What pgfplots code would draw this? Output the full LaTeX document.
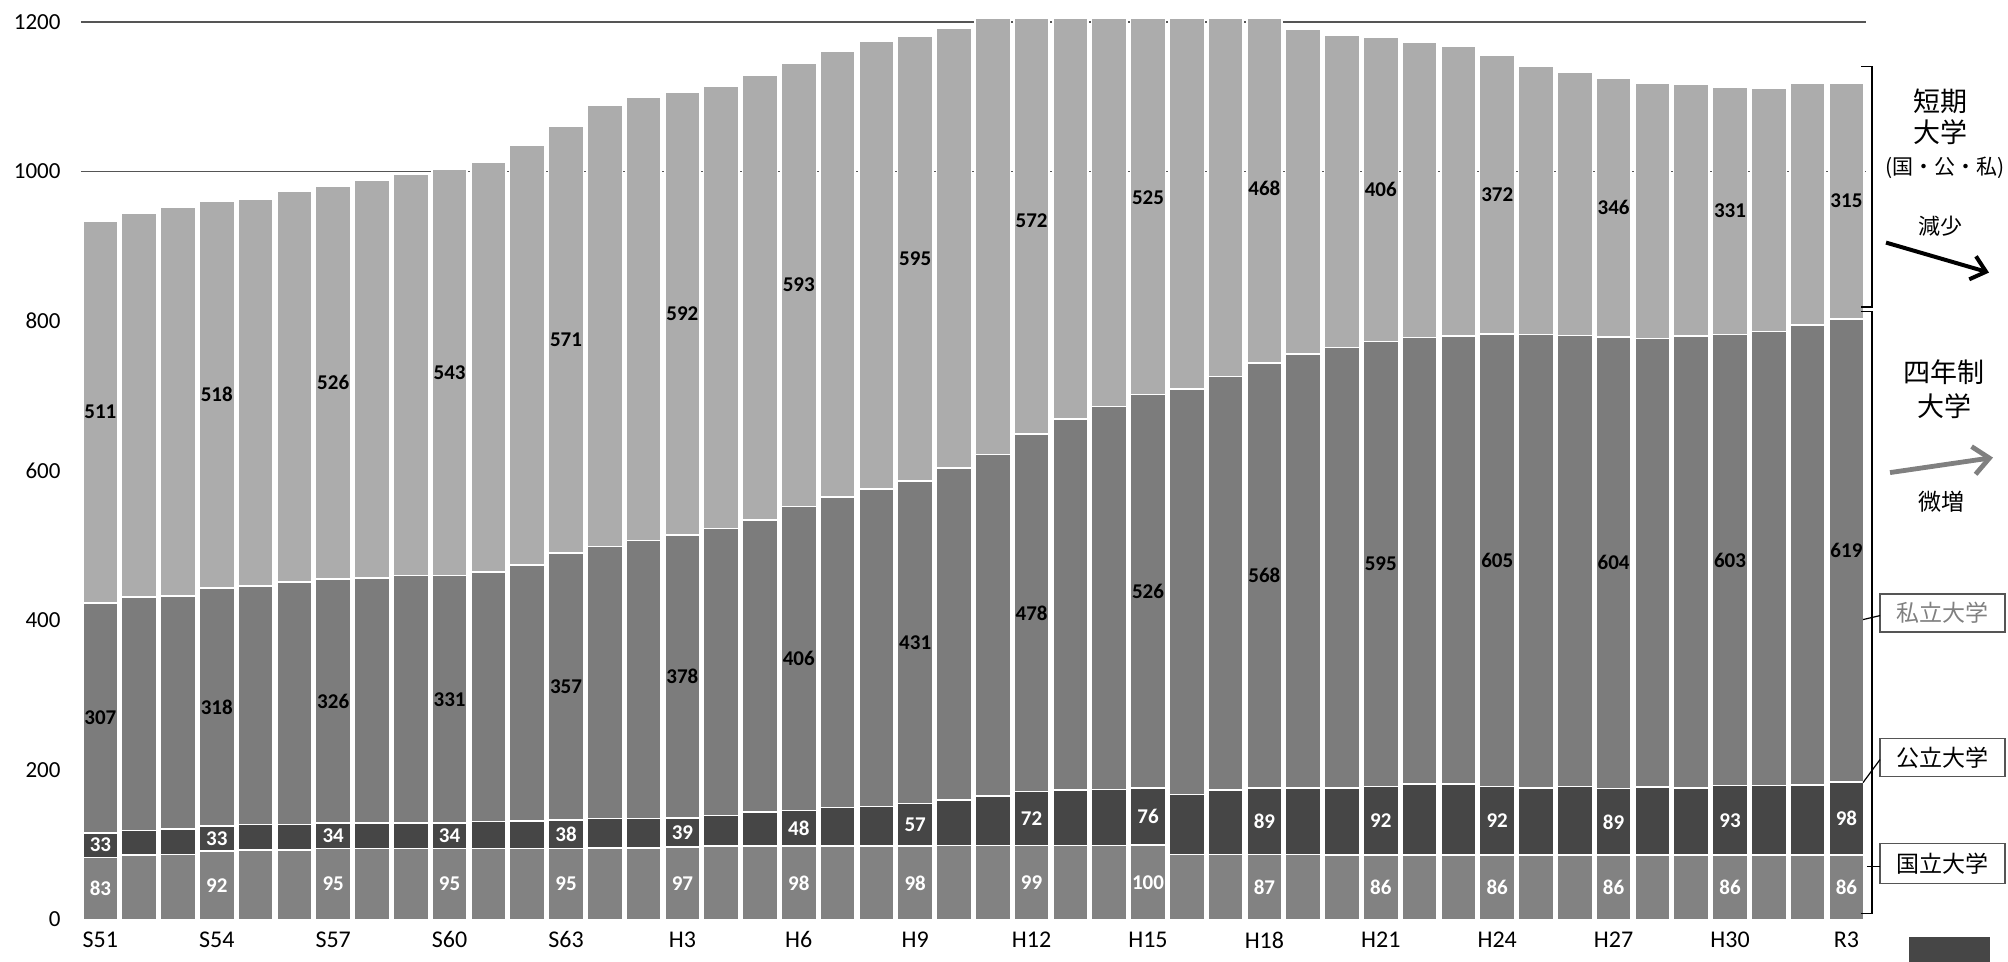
\documentclass[border=0pt]{standalone}
\usepackage{fontspec}
\setmainfont{Carlito}
\newfontfamily\jp{Noto Sans CJK JP}
\usepackage{pgfplots}
\pgfplotsset{compat=1.18}
\usepackage{pgfplotstable}
\usetikzlibrary{arrows.meta}

\definecolor{natc}{RGB}{130,130,130}
\definecolor{pubc}{RGB}{70,70,70}
\definecolor{pric}{RGB}{124,124,124}
\definecolor{jcc}{RGB}{172,172,172}
\definecolor{gridc}{RGB}{85,85,85}

% 国立, 公立, 私立, 短期大学 ; *l columns = printed labels
\pgfplotstableread{
x nat pub pri jc nl pl rl jl
0 83 33 307 511 83 33 307 511
1 86 33 312 514 {} {} {} {}
2 87 34 312 519 {} {} {} {}
3 92 33 318 518 92 33 318 518
4 93 34 319 517 {} {} {} {}
5 93 34 324 523 {} {} {} {}
6 95 34 326 526 95 34 326 526
7 95 34 328 532 {} {} {} {}
8 95 34 331 536 {} {} {} {}
9 95 34 331 543 95 34 331 543
10 95 36 334 548 {} {} {} {}
11 95 37 342 561 {} {} {} {}
12 95 38 357 571 95 38 357 571
13 96 39 364 590 {} {} {} {}
14 96 39 372 593 {} {} {} {}
15 97 39 378 592 97 39 378 592
16 98 41 384 591 {} {} {} {}
17 98 46 390 595 {} {} {} {}
18 98 48 406 593 98 48 406 593
19 98 52 415 596 {} {} {} {}
20 98 53 425 598 {} {} {} {}
21 98 57 431 595 98 57 431 595
22 99 61 444 588 {} {} {} {}
23 99 66 457 585 {} {} {} {}
24 99 72 478 572 99 72 478 572
25 99 74 496 559 {} {} {} {}
26 99 75 512 541 {} {} {} {}
27 100 76 526 525 100 76 526 525
28 87 80 542 508 {} {} {} {}
29 87 86 553 488 {} {} {} {}
30 87 89 568 468 87 89 568 468
31 87 89 580 434 {} {} {} {}
32 86 90 589 417 {} {} {} {}
33 86 92 595 406 86 92 595 406
34 86 95 597 395 {} {} {} {}
35 86 95 599 387 {} {} {} {}
36 86 92 605 372 86 92 605 372
37 86 90 606 359 {} {} {} {}
38 86 92 603 352 {} {} {} {}
39 86 89 604 346 86 89 604 346
40 86 91 600 341 {} {} {} {}
41 86 90 604 337 {} {} {} {}
42 86 93 603 331 86 93 603 331
43 86 93 607 326 {} {} {} {}
44 86 94 615 323 {} {} {} {}
45 86 98 619 315 86 98 619 315
}\univ

\pgfplotsset{
  seg/.style n args={2}{
    fill=#1, draw=white, line width=0.8pt,
    point meta=explicit symbolic,
    nodes near coords,
    nodes near coords align=center,
    every node near coord/.append style={text=#2, anchor=center,
      font=\bfseries\fontsize{10.5}{11}\selectfont},
  },
}

\begin{document}
\begin{tikzpicture}
\useasboundingbox (-40.5pt,-21pt) rectangle (963.5pt,459.8pt);
\begin{axis}[
  at={(0,0)}, anchor=south west,
  x=19.4pt, y=0.374pt,
  xmin=-0.5, xmax=45.5, ymin=0, ymax=1232,
  ybar stacked, bar width=17.6pt,
  axis line style={draw=none},
  major tick length=0pt,
  xtick={0,3,...,45},
  xticklabels={S51,S54,S57,S60,S63,H3,H6,H9,H12,H15,H18,H21,H24,H27,H30,R3},
  ytick={0,200,...,1200},
  extra y ticks={1000,1200},
  extra y tick labels={},
  extra y tick style={ymajorgrids=true, major grid style={gridc, line width=0.6pt}},
  /pgf/number format/assume math mode=true,
  /pgf/number format/1000 sep={},
  yticklabel style={xshift=-6.7pt, font=\fontsize{11.5}{12}\selectfont},
  xticklabel style={yshift=-2.5pt, font=\fontsize{12}{13}\selectfont},
]
\addplot[seg={natc}{white}] table[x=x, y=nat, meta=nl] {\univ};
\addplot[seg={pubc}{white}] table[x=x, y=pub, meta=pl] {\univ};
\addplot[seg={pric}{black}] table[x=x, y=pri, meta=rl] {\univ};
\addplot[seg={jcc}{black}] table[x=x, y=jc, meta=jl] {\univ};
\end{axis}
% the chart is cut at 1200: hide the bar tops above that line
\fill[white] (0pt,450.4pt) rectangle (893pt,470pt);

% brackets
\draw[line width=0.6pt] (890pt,426.4pt) -- (895.5pt,426.4pt) -- (895.5pt,306.3pt) -- (890pt,306.3pt);
\draw[line width=0.6pt] (890pt,304pt) -- (895.5pt,304pt) -- (895.5pt,3pt) -- (890pt,3pt);

% 短期大学
\node[font=\jp\fontsize{13.5}{14}\selectfont] at (929.5pt,409pt) {短期};
\node[font=\jp\fontsize{13.5}{14}\selectfont] at (929.5pt,393.5pt) {大学};
\node[font=\jp\fontsize{10.5}{11}\selectfont, inner sep=0pt] at (932pt,376pt) {(国・公・私)};
\node[font=\jp\fontsize{11}{12}\selectfont] at (929.5pt,346.5pt) {減少};
\draw[line width=2pt, -{Straight Barb[length=7pt,width=12pt]}] (902.5pt,338.5pt) -- (954pt,323.5pt);

% 四年制大学
\node[font=\jp\fontsize{13.5}{14}\selectfont] at (931.5pt,273.5pt) {四年制};
\node[font=\jp\fontsize{13.5}{14}\selectfont] at (931.5pt,256.5pt) {大学};
\draw[line width=2.4pt, gray, -{Straight Barb[length=8pt,width=14pt]}] (904.5pt,223.5pt) -- (956pt,231pt);
\node[font=\jp\fontsize{11.5}{12}\selectfont] at (930pt,209pt) {微増};

% legend boxes
\node[draw=gridc, line width=0.6pt, minimum width=62.5pt, minimum height=19pt, inner sep=0pt,
  text=gray, font=\jp\fontsize{11.5}{12}\selectfont] at (930.75pt,153.25pt) {私立大学};
\node[draw=gridc, line width=0.6pt, minimum width=62.5pt, minimum height=19pt, inner sep=0pt,
  font=\jp\fontsize{11.5}{12}\selectfont] at (930.75pt,81pt) {公立大学};
\node[draw=gridc, line width=0.6pt, minimum width=62.5pt, minimum height=20pt, inner sep=0pt,
  font=\jp\fontsize{11.5}{12}\selectfont] at (930.75pt,28pt) {国立大学};
\draw[line width=0.6pt] (891pt,150pt) -- (899.5pt,152pt);
\draw[line width=0.6pt] (891pt,68.5pt) -- (899.5pt,80pt);
\draw[line width=0.6pt] (893pt,26.5pt) -- (899.5pt,26.5pt);

\fill[pubc] (914pt,-21pt) rectangle (954.5pt,-8.5pt);
\end{tikzpicture}
\end{document}
